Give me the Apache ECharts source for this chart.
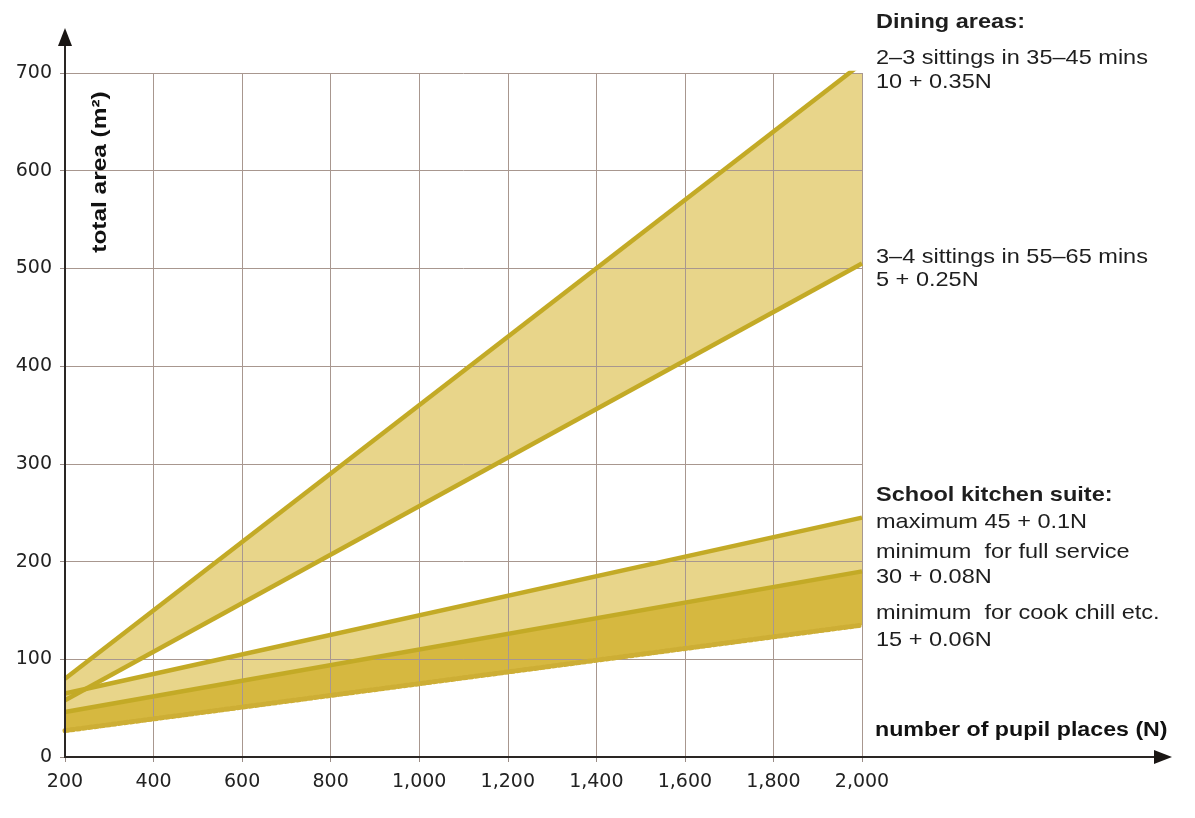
<!DOCTYPE html>
<html>
<head>
<meta charset="utf-8">
<script src="https://cdn.jsdelivr.net/npm/echarts@6/dist/echarts.min.js"></script>
<style>
html,body{margin:0;padding:0;background:#fff;}
#chart{width:1195px;height:818px;}
</style>
</head>
<body>
<div id="chart"></div>
<script>
// Pupil places N at which each line is read (start, end)
const nPoints = [200, 2000];
// Total area (m²) read at N = 200 and N = 2000
const diningUpper = [80, 710];   // 10 + 0.35N
const diningLower = [58, 505];   // 5 + 0.25N
const kitchenMax = [65, 245];    // 45 + 0.1N
const kitchenFull = [46, 190];   // 30 + 0.08N
const kitchenChill = [27, 135];  // 15 + 0.06N

const xTicks = [200, 400, 600, 800, 1000, 1200, 1400, 1600, 1800, 2000];
const yTicks = [0, 100, 200, 300, 400, 500, 600, 700];

const notes = [
  {text: 'Dining areas:', y: 22, bold: true},
  {text: '2–3 sittings in 35–45 mins', y: 58},
  {text: '10 + 0.35N', y: 82},
  {text: '3–4 sittings in 55–65 mins', y: 257},
  {text: '5 + 0.25N', y: 280},
  {text: 'School kitchen suite:', y: 495, bold: true},
  {text: 'maximum 45 + 0.1N', y: 522},
  {text: 'minimum  for full service', y: 552},
  {text: '30 + 0.08N', y: 577},
  {text: 'minimum  for cook chill etc.', y: 613},
  {text: '15 + 0.06N', y: 640}
];

const LIGHT = '#e8d58a';
const DARK = '#d6b840';
const LINE = '#c3aa26';
const FONT = '"Liberation Sans", Arial, sans-serif';
const TICKFONT = '"DejaVu Sans", sans-serif';

function pairs(vals) { return nPoints.map((n, i) => [n, vals[i]]); }

function band(upper, lower, color) {
  return {
    type: 'custom',
    z: -1,
    clip: true,
    silent: true,
    data: [[nPoints[0], lower[0]], [nPoints[1], upper[1]]],
    renderItem: function (params, api) {
      if (params.dataIndex !== 0) return null;
      const pts = [
        api.coord([nPoints[0], upper[0]]),
        api.coord([nPoints[1], upper[1]]),
        api.coord([nPoints[1], lower[1]]),
        api.coord([nPoints[0], lower[0]])
      ];
      return {type: 'polygon', shape: {points: pts}, style: {fill: color}};
    }
  };
}

function line(vals, extra) {
  return Object.assign({
    type: 'line',
    data: pairs(vals),
    showSymbol: false,
    silent: true,
    clip: true,
    z: 3,
    lineStyle: {color: LINE, width: 4.5}
  }, extra || {});
}

const chart = echarts.init(document.getElementById('chart'), null, {renderer: 'canvas'});

const option = {
  animation: false,
  backgroundColor: '#ffffff',
  grid: {left: 65, right: 333, top: 73, bottom: 61, containLabel: false},
  xAxis: {
    type: 'value',
    min: 200, max: 2000, interval: 200,
    axisLine: {show: false},
    axisTick: {show: true, length: 5, lineStyle: {color: '#9a8c86'}},
    splitLine: {show: true, lineStyle: {color: '#a8978f', width: 1}},
    axisLabel: {
      color: '#222', fontSize: 19, fontFamily: TICKFONT, margin: 16,
      formatter: v => xTicks.includes(v) ? v.toLocaleString('en-US') : ''
    }
  },
  yAxis: {
    type: 'value',
    min: 0, max: 700, interval: 100,
    axisLine: {show: false},
    axisTick: {show: true, length: 5, lineStyle: {color: '#9a8c86'}},
    splitLine: {show: true, lineStyle: {color: '#a8978f', width: 1}},
    axisLabel: {
      color: '#222', fontSize: 19, fontFamily: TICKFONT, margin: 13,
      formatter: v => yTicks.includes(v) ? String(v) : ''
    }
  },
  series: [
    band(diningUpper, diningLower, LIGHT),
    band(kitchenMax, kitchenFull, LIGHT),
    band(kitchenFull, kitchenChill, DARK),
    line(diningUpper),
    line(diningLower),
    line(kitchenMax),
    line(kitchenFull),
    line(kitchenChill, {z: 2, lineStyle: {color: '#cdae35', width: 5, type: [3, 3], cap: 'round'}})
  ]
};
chart.setOption(option);

// Axis lines with arrows, anchored to the chart's own coordinate system
const origin = chart.convertToPixel({gridIndex: 0}, [200, 0]);
const yTop = chart.convertToPixel({gridIndex: 0}, [200, 700]);
const xRight = chart.convertToPixel({gridIndex: 0}, [2000, 0]);
const yTip = yTop[1] - 45;
const xTip = xRight[0] + 310;

const graphics = [
  {type: 'line', z: 10, shape: {x1: origin[0], y1: origin[1] + 1, x2: origin[0], y2: yTip + 12},
   style: {stroke: '#2a2624', lineWidth: 2}},
  {type: 'polygon', z: 10, shape: {points: [[origin[0], yTip], [origin[0] - 7, yTip + 18], [origin[0] + 7, yTip + 18]]},
   style: {fill: '#1a1614'}},
  {type: 'line', z: 10, shape: {x1: origin[0] - 1, y1: origin[1], x2: xTip - 12, y2: origin[1]},
   style: {stroke: '#2a2624', lineWidth: 2}},
  {type: 'polygon', z: 10, shape: {points: [[xTip, origin[1]], [xTip - 18, origin[1] - 7], [xTip - 18, origin[1] + 7]]},
   style: {fill: '#1a1614'}},
  {type: 'text', z: 10, x: origin[0] + 35, y: yTop[1] + 99, rotation: Math.PI / 2, scaleX: 1.22,
   style: {text: 'total area (m²)', font: 'bold 20px ' + FONT, fill: '#111', align: 'center', verticalAlign: 'middle'}},
  {type: 'text', z: 10, x: xRight[0] + 13, y: origin[1] - 27, scaleX: 1.16,
   style: {text: 'number of pupil places (N)', font: 'bold 20px ' + FONT, fill: '#111', align: 'left', verticalAlign: 'middle'}}
];
notes.forEach(n => {
  graphics.push({type: 'text', z: 10, x: xRight[0] + 14, y: n.y, scaleX: 1.12,
    style: {text: n.text, font: (n.bold ? 'bold 21px ' : '21px ') + FONT, fill: '#1e1e1e', align: 'left', verticalAlign: 'middle'}});
});
chart.setOption({graphic: graphics});
</script>
</body>
</html>
